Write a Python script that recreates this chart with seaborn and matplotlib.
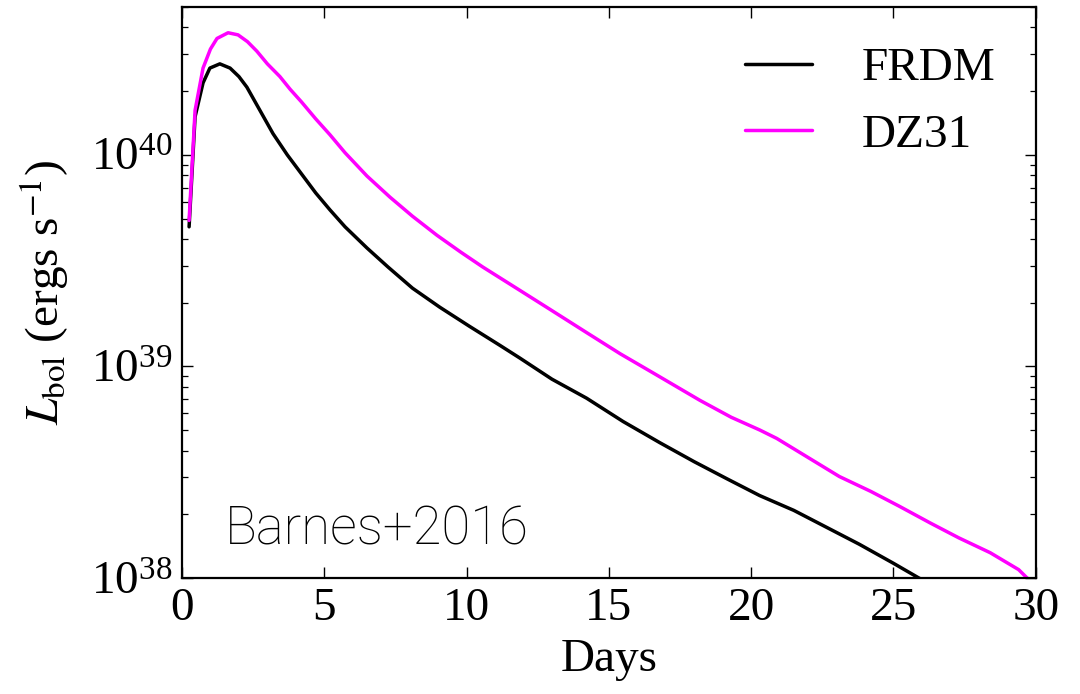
import numpy as np
import pandas as pd
import matplotlib
matplotlib.use("Agg")
import matplotlib.pyplot as plt
import seaborn as sns

# ---- data ----
frdm_days = [0.25, 0.46, 0.74, 0.98, 1.33, 1.69, 2.0, 2.28, 2.74, 3.2, 3.7, 4.2, 4.7, 5.2,
             5.73, 6.5, 7.24, 8.1, 9.06, 10.1, 11.17, 11.87, 13.0, 14.22, 15.5, 16.79,
             18.0, 19.14, 20.3, 21.5, 22.65, 23.8, 25.0, 25.9, 26.5]
frdm_log = [39.66, 40.18, 40.34, 40.41, 40.43, 40.41, 40.37, 40.32, 40.21, 40.10, 40.00,
            39.91, 39.82, 39.74, 39.66, 39.56, 39.47, 39.37, 39.28, 39.19, 39.10, 39.04,
            38.94, 38.85, 38.74, 38.64, 38.55, 38.47, 38.39, 38.32, 38.24, 38.16, 38.07,
            38.00, 37.96]

dz31_days = [0.25, 0.46, 0.74, 1.0, 1.23, 1.62, 1.97, 2.3, 2.63, 3.0, 3.44, 3.8, 4.2,
             4.7, 5.2, 5.73, 6.5, 7.31, 8.1, 8.96, 9.8, 10.57, 11.87, 12.93, 14.22, 15.4,
             16.55, 18.2, 19.3, 20.3, 20.9, 22.0, 23.1, 24.2, 25.2, 26.3, 27.3, 28.4,
             29.4, 29.7, 30.2]
dz31_log = [39.69, 40.21, 40.41, 40.50, 40.55, 40.577, 40.567, 40.535, 40.49, 40.43, 40.37,
            40.31, 40.25, 40.17, 40.095, 40.01, 39.90, 39.80, 39.71, 39.62, 39.54, 39.47,
            39.36, 39.27, 39.16, 39.06, 38.97, 38.84, 38.76, 38.70, 38.66, 38.57, 38.48,
            38.41, 38.34, 38.26, 38.19, 38.12, 38.04, 38.00, 37.97]

series_names = ["FRDM", "DZ31"]
series_colors = {"FRDM": "black", "DZ31": "magenta"}

df = pd.concat([
    pd.DataFrame({"Days": frdm_days, "L": 10.0 ** np.array(frdm_log), "model": "FRDM"}),
    pd.DataFrame({"Days": dz31_days, "L": 10.0 ** np.array(dz31_log), "model": "DZ31"}),
], ignore_index=True)

# ---- style ----
sns.set_style("ticks")
plt.rcParams["font.family"] = ["Liberation Serif", "DejaVu Serif"]
plt.rcParams["mathtext.fontset"] = "stix"
plt.rcParams["axes.linewidth"] = 1.6
plt.rcParams["axes.edgecolor"] = "black"
plt.rcParams["text.color"] = "black"
plt.rcParams["axes.labelcolor"] = "black"
plt.rcParams["xtick.color"] = "black"
plt.rcParams["ytick.color"] = "black"

FS = 34

fig = plt.figure(figsize=(10.8, 6.94), dpi=100)
ax = fig.add_axes([0.1685, 0.167, 0.7905, 0.823])

sns.lineplot(data=df, x="Days", y="L", hue="model", hue_order=series_names,
             palette=series_colors, estimator=None, sort=False, linewidth=2.5, ax=ax)

ax.set_yscale("log")
ax.set_xlim(0, 30)
ax.set_ylim(1e38, 5e40)
ax.set_xticks([0, 5, 10, 15, 20, 25, 30])

ax.tick_params(axis="both", which="both", direction="in", top=True, right=True,
               labelsize=FS, color="black", labelcolor="black")
ax.tick_params(axis="both", which="major", length=8, width=1.0, pad=7)
ax.tick_params(axis="both", which="minor", length=4.5, width=0.9)

ax.set_xlabel("Days", fontsize=FS, labelpad=6)
ax.set_ylabel(r"$L_{\rm bol}$ (ergs s$^{-1}$)", fontsize=FS, labelpad=14)

leg = ax.legend(loc="upper right", frameon=False, fontsize=FS, handlelength=1.42,
                handletextpad=1.06, labelspacing=0.5, borderaxespad=0.45)
for line in leg.get_lines():
    line.set_linewidth(2.5)

ax.text(0.05, 0.058, "Barnes+2016", transform=ax.transAxes, fontsize=38,
        family=["Roboto", "DejaVu Sans"], fontweight="light", color="black")

fig.savefig("out.png", dpi=100)
